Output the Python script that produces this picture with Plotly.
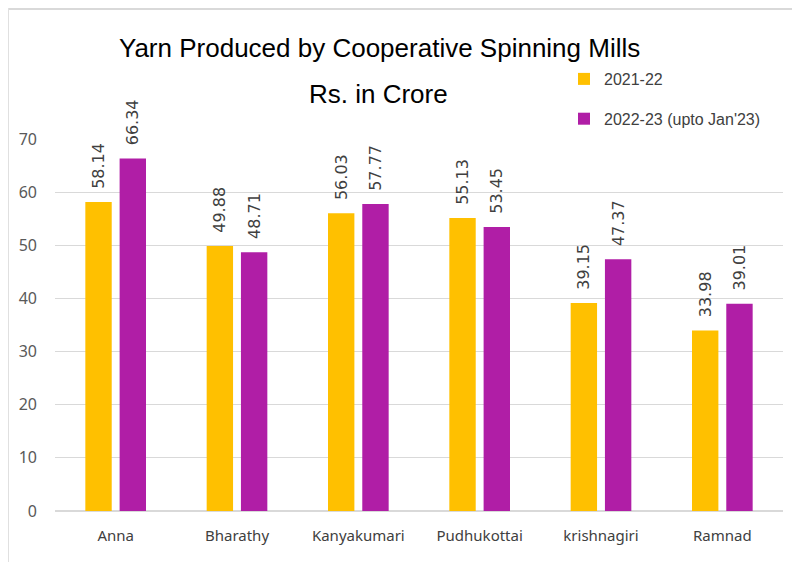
import plotly.graph_objects as go

categories = ["Anna", "Bharathy", "Kanyakumari", "Pudhukottai", "krishnagiri", "Ramnad"]
series_2021 = [58.14, 49.88, 56.03, 55.13, 39.15, 33.98]
series_2022 = [66.34, 48.71, 57.77, 53.45, 47.37, 39.01]
names = ["2021-22", "2022-23 (upto Jan'23)"]
colors = ["#FFC000", "#B01EA6"]

OFF = 8  # page body margin
W, H = 800 - OFF, 562 - OFF
# plot area in screen pixels: x 55..783, y 139..511
L = 55 - OFF
T = 139 - OFF
R = W - (783 - OFF)
B = H - (511 - OFF)
pw, ph = W - L - R, H - T - B

def px(xs):
    return (xs - OFF - L) / pw

def py(ys):
    return (H - B - (ys - OFF)) / ph

NB = "\u00a0\u00a0"
fig = go.Figure()
for i, (vals, name, col) in enumerate(zip([series_2021, series_2022], names, colors)):
    fig.add_trace(go.Bar(
        x=categories, y=vals, name=name, marker_color=col,
        marker_line_width=0, legendgroup=f"g{i}",
        text=[NB + f"{v:.2f}" for v in vals], textposition="outside",
        textangle=-90, cliponaxis=False, constraintext="none",
        textfont=dict(family="DejaVu Sans", size=16, color="#404040"),
    ))

fig.update_layout(
    width=W, height=H,
    margin=dict(l=L, r=R, t=T, b=B),
    paper_bgcolor="white", plot_bgcolor="white",
    barmode="group", bargap=0.435, bargroupgap=0.23,
    showlegend=True,
    legend=dict(x=px(564), y=py(62), xanchor="left", yanchor="top",
                font=dict(family="Liberation Sans Narrow, Arial Narrow, Liberation Sans", size=16, color="#404040"),
                tracegroupgap=16, bgcolor="rgba(0,0,0,0)", itemwidth=30),
    font=dict(family="Liberation Sans"),
    annotations=[
        dict(text="Yarn Produced by Cooperative Spinning Mills", x=px(379), y=py(48),
             xref="paper", yref="paper", showarrow=False, xanchor="center", yanchor="middle",
             font=dict(family="Liberation Sans Narrow, Arial Narrow, Liberation Sans", size=26, color="#000000")),
        dict(text="Rs. in Crore", x=px(378), y=py(94),
             xref="paper", yref="paper", showarrow=False, xanchor="center", yanchor="middle",
             font=dict(family="Liberation Sans Narrow, Arial Narrow, Liberation Sans", size=26, color="#000000")),
    ],
    shapes=[
        dict(type="line", xref="paper", yref="paper", x0=px(8), x1=px(800), y0=py(9), y1=py(9),
             line=dict(color="#d9d9d9", width=2)),
        dict(type="line", xref="paper", yref="paper", x0=px(8.5), x1=px(8.5), y0=py(8), y1=py(562),
             line=dict(color="#e0e0e0", width=1)),
    ],
)
fig.update_yaxes(range=[0, 70], dtick=10, showgrid=True, gridcolor="#d9d9d9", gridwidth=1,
                 zeroline=True, zerolinecolor="#d9d9d9", showline=False, ticks="",
                 ticklabelstandoff=17,
                 tickfont=dict(family="Noto Sans", size=16, color="#595959"))
fig.update_xaxes(showline=False, ticks="", ticklabelstandoff=14,
                 tickfont=dict(family="Noto Sans", size=15, color="#404040"))

fig.write_html("out.html")
